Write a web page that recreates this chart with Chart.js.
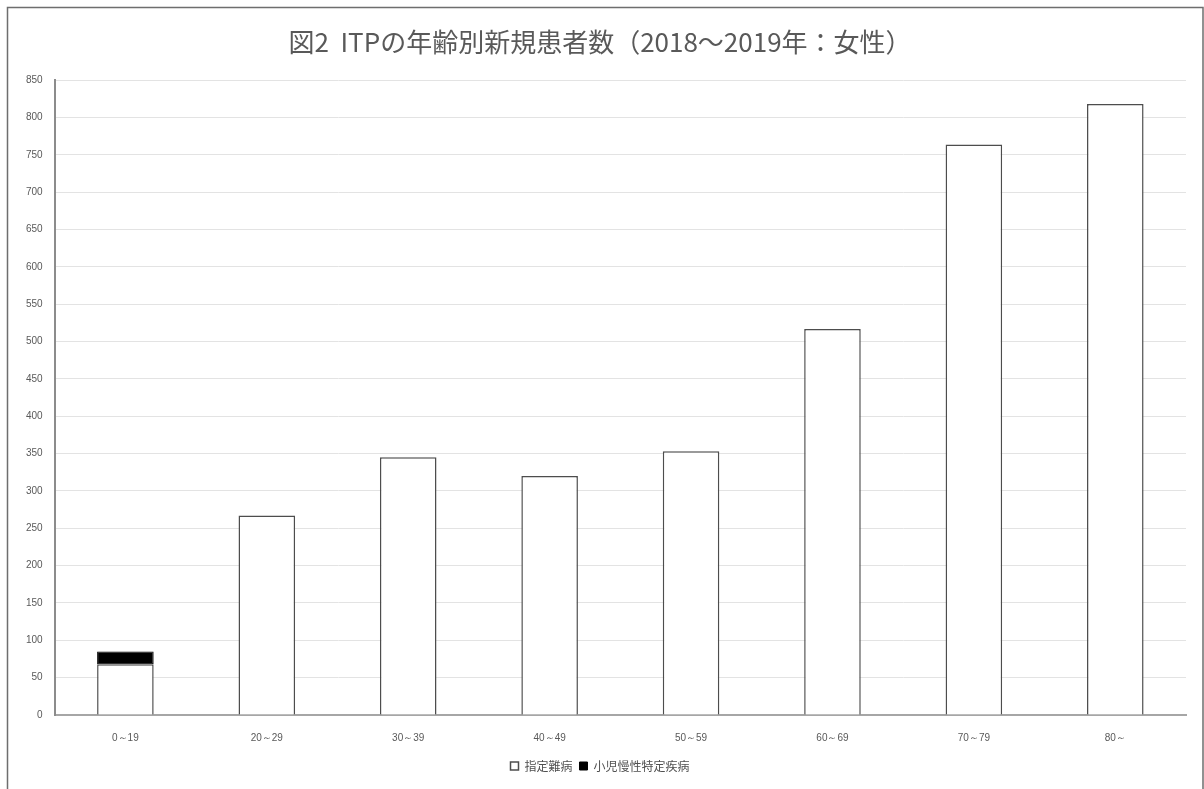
<!DOCTYPE html>
<html lang="ja">
<head>
<meta charset="utf-8">
<title>ITPの年齢別新規患者数</title>
<script src="https://cdn.jsdelivr.net/npm/chart.js@4.4.1/dist/chart.umd.min.js"></script>
<style>
  html, body { margin: 0; padding: 0; background: #ffffff; }
  #wrap { position: relative; width: 1204px; height: 789px; }
  canvas { display: block; }
</style>
</head>
<body>
<div id="wrap"><canvas id="chart" width="1204" height="789"></canvas></div>
<script>
// Age groups and yearly new-patient counts (2018–2019, female)
const ageGroups = ['0～19', '20～29', '30～39', '40～49', '50～59', '60～69', '70～79', '80～'];
const designatedIntractable = [68, 267, 345, 320, 353, 517, 764, 818];   // 指定難病
const pediatricChronic      = [17, 0, 0, 0, 0, 0, 0, 0];                 // 小児慢性特定疾病
const seriesNames = ['指定難病', '小児慢性特定疾病'];
const yTickMax = 850;
const yTickStep = 50;

const jpFont = '"Noto Sans CJK JP", "Noto Sans", sans-serif';
const tickFont = '"Liberation Sans Narrow", "Liberation Sans", sans-serif';

// Thin frame around the whole figure
const framePlugin = {
  id: 'frame',
  beforeDraw(chart) {
    const ctx = chart.ctx;
    ctx.save();
    ctx.fillStyle = '#ffffff';
    ctx.fillRect(0, 0, chart.width, chart.height);
    ctx.strokeStyle = '#6e6e6e';
    ctx.lineWidth = 1.5;
    ctx.beginPath();
    ctx.moveTo(7.5, chart.height + 5);
    ctx.lineTo(7.5, 7.5);
    ctx.lineTo(chart.width - 1, 7.5);
    ctx.lineTo(chart.width - 1, chart.height + 5);
    ctx.stroke();
    ctx.restore();
  }
};

new Chart(document.getElementById('chart'), {
  type: 'bar',
  data: {
    labels: ageGroups,
    datasets: [
      {
        label: seriesNames[0],
        data: designatedIntractable,
        backgroundColor: '#ffffff',
        borderColor: '#4d4d4d',
        borderWidth: 1.5,
        borderSkipped: 'start',
        barPercentage: 0.4,
        categoryPercentage: 1.0
      },
      {
        label: seriesNames[1],
        data: pediatricChronic,
        backgroundColor: '#000000',
        borderColor: '#000000',
        borderWidth: 1,
        borderSkipped: false,
        barPercentage: 0.4,
        categoryPercentage: 1.0
      }
    ]
  },
  options: {
    responsive: false,
    animation: false,
    layout: { padding: { left: 14, right: 18, top: 18, bottom: 7 } },
    plugins: {
      title: {
        display: true,
        text: '図2  ITPの年齢別新規患者数（2018～2019年：女性）',
        color: '#595959',
        font: { family: jpFont, size: 26, weight: 'normal' },
        padding: { top: 9, bottom: 22 }
      },
      legend: {
        position: 'bottom',
        labels: {
          color: '#505050',
          font: { family: jpFont, size: 12 },
          boxWidth: 8,
          boxHeight: 8,
          padding: 7
        }
      },
      tooltip: { enabled: false }
    },
    scales: {
      x: {
        stacked: true,
        grid: { display: false },
        border: { color: '#a6a6a6', width: 2 },
        ticks: {
          color: '#595959',
          font: { family: tickFont, size: 10 },
          padding: 9
        }
      },
      y: {
        stacked: true,
        min: 0,
        max: yTickMax,
        ticks: {
          stepSize: yTickStep,
          color: '#595959',
          font: { family: tickFont, size: 10 },
          padding: 12
        },
        grid: { color: '#e3e3e3', lineWidth: 1, drawTicks: false },
        border: { color: '#8c8c8c', width: 2 }
      }
    }
  },
  plugins: [framePlugin]
});
</script>
</body>
</html>
